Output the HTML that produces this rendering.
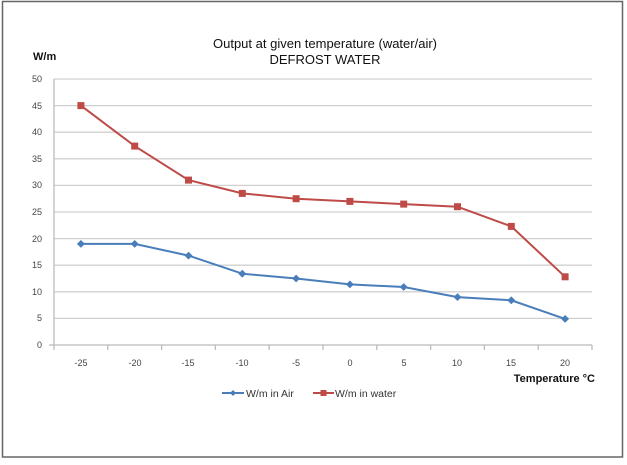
<!DOCTYPE html>
<html><head><style>
body{margin:0;background:#fff;}
svg text{font-family:"Liberation Sans",sans-serif;}
</style></head><body>
<svg width="627" height="460" viewBox="0 0 627 460" xmlns="http://www.w3.org/2000/svg">
<rect x="2.5" y="1.5" width="620" height="455.5" fill="#fff" stroke="#666" stroke-width="1.5"/>
<text x="325" y="48" font-size="13" text-anchor="middle" fill="#111">Output at given temperature (water/air)</text>
<text x="325" y="64" font-size="13" text-anchor="middle" fill="#111">DEFROST WATER</text>
<text x="33" y="60" font-size="11" font-weight="bold" fill="#111">W/m</text>
<g stroke="#d0d0d0" stroke-width="1.3">
<line x1="54" x2="592" y1="79" y2="79"/><line x1="54" x2="592" y1="105.6" y2="105.6"/>
<line x1="54" x2="592" y1="132.2" y2="132.2"/><line x1="54" x2="592" y1="158.8" y2="158.8"/>
<line x1="54" x2="592" y1="185.4" y2="185.4"/><line x1="54" x2="592" y1="212" y2="212"/>
<line x1="54" x2="592" y1="238.6" y2="238.6"/><line x1="54" x2="592" y1="265.2" y2="265.2"/>
<line x1="54" x2="592" y1="291.8" y2="291.8"/><line x1="54" x2="592" y1="318.4" y2="318.4"/>
</g>
<g stroke="#bbb" stroke-width="1.3">
<line x1="54" x2="54" y1="79" y2="345"/><line x1="49" x2="592" y1="345" y2="345"/>
<line x1="54" x2="54" y1="345" y2="350"/><line x1="107.8" x2="107.8" y1="345" y2="350"/>
<line x1="161.6" x2="161.6" y1="345" y2="350"/><line x1="215.4" x2="215.4" y1="345" y2="350"/>
<line x1="269.2" x2="269.2" y1="345" y2="350"/><line x1="323" x2="323" y1="345" y2="350"/>
<line x1="376.8" x2="376.8" y1="345" y2="350"/><line x1="430.6" x2="430.6" y1="345" y2="350"/>
<line x1="484.4" x2="484.4" y1="345" y2="350"/><line x1="538.2" x2="538.2" y1="345" y2="350"/>
<line x1="592" x2="592" y1="345" y2="350"/>
</g>
<g font-size="9" fill="#444" text-anchor="end">
<text x="42" y="82">50</text><text x="42" y="109">45</text><text x="42" y="135">40</text>
<text x="42" y="162">35</text><text x="42" y="188">30</text><text x="42" y="215">25</text>
<text x="42" y="242">20</text><text x="42" y="268">15</text><text x="42" y="295">10</text>
<text x="42" y="321">5</text><text x="42" y="348">0</text>
</g>
<g font-size="9" fill="#444" text-anchor="middle">
<text x="81" y="366">-25</text><text x="135" y="366">-20</text><text x="188" y="366">-15</text>
<text x="242" y="366">-10</text><text x="296" y="366">-5</text><text x="350" y="366">0</text>
<text x="404" y="366">5</text><text x="457" y="366">10</text><text x="511" y="366">15</text>
<text x="565" y="366">20</text>
</g>
<text x="595" y="382" font-size="11" font-weight="bold" text-anchor="end" fill="#111">Temperature °C</text>
<polyline fill="none" stroke="#4a7ebb" stroke-width="2" points="80.9,243.9 134.7,243.9 188.5,255.6 242.3,273.7 296.1,278.5 349.9,284.4 403.7,287.0 457.5,297.1 511.3,300.3 565.1,318.9"/>
<g fill="#4a7ebb">
<path d="M80.9,240 l4,3.9 -4,3.9 -4,-3.9z"/><path d="M134.7,240 l4,3.9 -4,3.9 -4,-3.9z"/>
<path d="M188.5,251.7 l4,3.9 -4,3.9 -4,-3.9z"/><path d="M242.3,269.8 l4,3.9 -4,3.9 -4,-3.9z"/>
<path d="M296.1,274.6 l4,3.9 -4,3.9 -4,-3.9z"/><path d="M349.9,280.5 l4,3.9 -4,3.9 -4,-3.9z"/>
<path d="M403.7,283.1 l4,3.9 -4,3.9 -4,-3.9z"/><path d="M457.5,293.2 l4,3.9 -4,3.9 -4,-3.9z"/>
<path d="M511.3,296.4 l4,3.9 -4,3.9 -4,-3.9z"/><path d="M565.1,315 l4,3.9 -4,3.9 -4,-3.9z"/>
</g>
<polyline fill="none" stroke="#be4b48" stroke-width="2" points="80.9,105.6 134.7,146.1 188.5,180.1 242.3,193.4 296.1,198.7 349.9,201.4 403.7,204.1 457.5,206.7 511.3,226.4 565.1,276.8"/>
<g fill="#be4b48">
<rect x="77.4" y="102.1" width="7" height="7"/><rect x="131.2" y="142.6" width="7" height="7"/>
<rect x="185" y="176.6" width="7" height="7"/><rect x="238.8" y="189.9" width="7" height="7"/>
<rect x="292.6" y="195.2" width="7" height="7"/><rect x="346.4" y="197.9" width="7" height="7"/>
<rect x="400.2" y="200.6" width="7" height="7"/><rect x="454" y="203.2" width="7" height="7"/>
<rect x="507.8" y="222.9" width="7" height="7"/><rect x="561.6" y="273.3" width="7" height="7"/>
</g>
<line x1="222" x2="244" y1="393" y2="393" stroke="#4a7ebb" stroke-width="2"/>
<path d="M233,390 l3,3 -3,3 -3,-3z" fill="#4a7ebb"/>
<text x="246" y="397" font-size="10.5" fill="#333">W/m in Air</text>
<line x1="313" x2="334" y1="393" y2="393" stroke="#be4b48" stroke-width="2"/>
<rect x="320.5" y="390" width="6" height="6" fill="#be4b48"/>
<text x="335" y="397" font-size="10.5" fill="#333">W/m in water</text>
</svg>
</body></html>
